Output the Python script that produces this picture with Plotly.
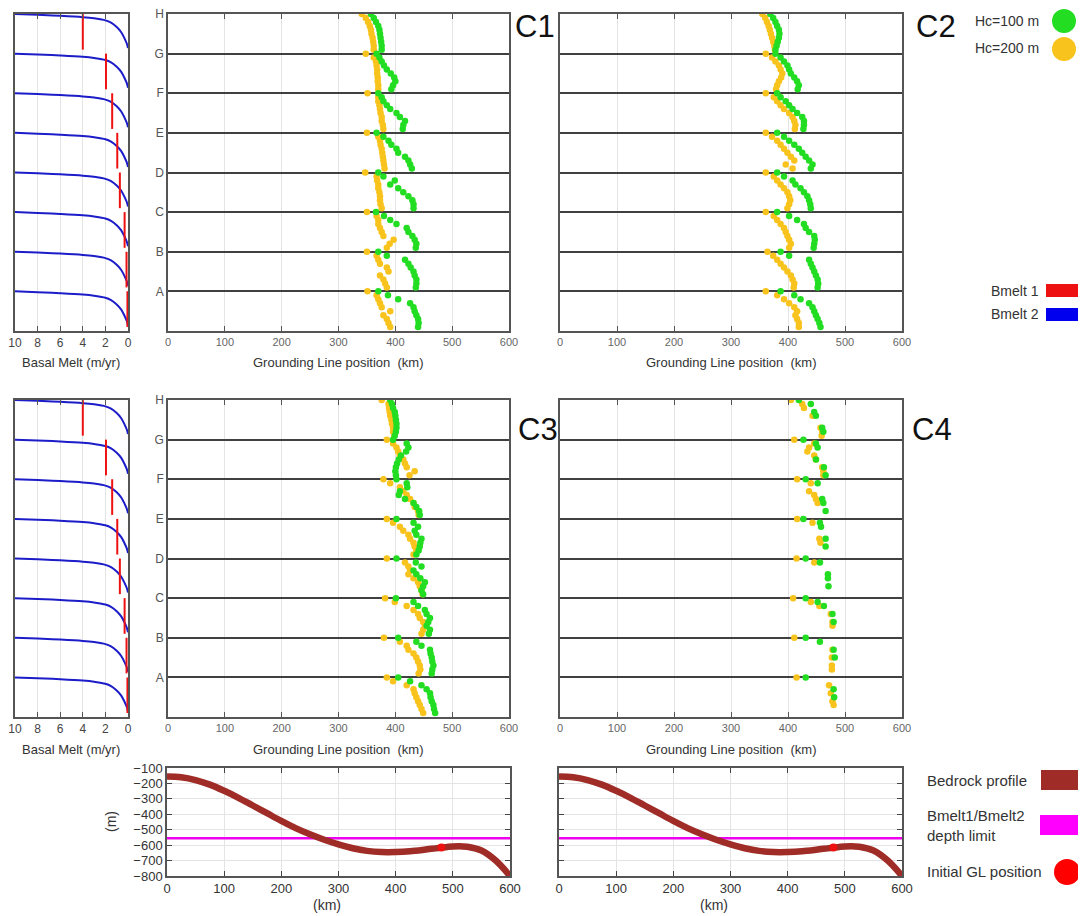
import plotly.graph_objects as go

# The page body adds an 8 px offset; the figure is sized so the plot lands on the 1086x916 canvas.
W, H = 1086, 916
OFF = 8
FW, FH = W - OFF, H - OFF
def px(x): return (x - OFF) / FW
def py(y): return 1 - (y - OFF) / FH

FONT = "Liberation Sans, Arial, sans-serif"

# ---------------- data ----------------
EXPERIMENTS = ["A", "B", "C", "D", "E", "F", "G", "H"]          # bottom -> top
ROWS = ["H", "G", "F", "E", "D", "C", "B", "A"]                 # row order of arrays below
TIME_FRAC = [0.0, 0.1, 0.2, 0.3, 0.4, 0.5, 0.6, 0.7, 0.8, 0.9]  # relative run index inside each experiment

# Grounding line positions (km), rows H..A
C1_HC100 = [
    [357, 362, 366, 370, 372, 373, 374, 375, 376, 376],
    [367, 372, 376, 380, 385, 392, 398, 400, 396, 393],
    [370, 376, 379, 385, 391, 402, 408, 417, 414, 413],
    [367, 379, 388, 393, 402, 405, 417, 423, 426, 429],
    [370, 379, 399, 391, 405, 414, 423, 430, 432, 432],
    [366, 380, 391, 402, 420, 423, 430, 434, 437, 436],
    [370, 385, 417, 423, 427, 432, 434, 437, 437, 436],
    [370, 387, 405, 426, 432, 434, 437, 440, 441, 440],
]
C1_HC200 = [
    [341, 348, 352, 355, 357, 358, 360, 361, 362, 362],
    [348, 362, 366, 367, 368, 368, 369, 369, 370, 370],
    [351, 370, 370, 372, 373, 374, 376, 376, 378, 379],
    [350, 370, 373, 374, 376, 377, 378, 379, 380, 381],
    [347, 367, 368, 370, 370, 372, 373, 373, 374, 376],
    [350, 367, 370, 370, 373, 376, 379, 397, 390, 385],
    [350, 367, 370, 373, 385, 388, 373, 379, 382, 385],
    [351, 367, 370, 373, 376, 391, 379, 385, 388, 391],
]
C2_HC100 = [
    [369, 374, 378, 381, 384, 385, 384, 382, 380, 378],
    [378, 387, 393, 399, 402, 405, 411, 416, 419, 417],
    [381, 387, 396, 402, 408, 416, 425, 428, 428, 427],
    [381, 393, 402, 411, 419, 425, 431, 437, 443, 440],
    [381, 393, 408, 413, 422, 428, 434, 437, 439, 440],
    [381, 402, 416, 428, 431, 437, 446, 447, 446, 445],
    [387, 402, 437, 440, 443, 446, 449, 452, 453, 452],
    [387, 411, 422, 437, 443, 446, 449, 452, 455, 457],
]
C2_HC200 = [
    [355, 360, 363, 366, 368, 370, 372, 374, 376, 377],
    [361, 372, 378, 384, 387, 390, 388, 384, 381, 379],
    [361, 375, 381, 387, 393, 402, 408, 411, 413, 412],
    [361, 372, 381, 387, 393, 399, 405, 411, 396, 408],
    [361, 375, 381, 387, 393, 399, 402, 404, 402, 399],
    [361, 375, 381, 387, 393, 396, 399, 402, 405, 402],
    [364, 374, 381, 387, 393, 399, 405, 408, 411, 410],
    [361, 381, 393, 402, 411, 416, 413, 416, 419, 419],
]
C3_HC100 = [
    [391, 394, 396, 399, 400, 401, 402, 402, 401, 399],
    [396, 420, 423, 419, 410, 406, 403, 401, 400, 401],
    [402, 420, 421, 408, 406, 417, 432, 437, 442, 443],
    [402, 432, 440, 434, 437, 446, 444, 443, 441, 437],
    [402, 436, 446, 432, 437, 444, 452, 449, 446, 449],
    [401, 432, 440, 452, 455, 461, 458, 455, 461, 459],
    [405, 437, 446, 461, 462, 464, 465, 467, 465, 464],
    [405, 426, 446, 455, 461, 462, 464, 467, 468, 470],
]
C3_HC200 = [
    [376, 388, 389, 390, 391, 393, 394, 396, 396, 398],
    [385, 396, 402, 405, 408, 414, 417, 420, 434, 425],
    [379, 391, 408, 414, 420, 426, 432, 434, 440, 441],
    [385, 396, 408, 414, 423, 426, 432, 434, 437, 432],
    [385, 417, 423, 426, 423, 432, 440, 443, 446, 448],
    [382, 399, 420, 432, 440, 443, 449, 452, 449, 446],
    [380, 408, 420, 423, 432, 437, 440, 443, 444, 441],
    [385, 396, 420, 432, 434, 437, 440, 443, 446, 449],
]
C4_HC100 = [
    [419, 440, None, 446, 449, None, None, 460, 462, None],
    [427, 449, 452, None, None, 449, None, 463, None, 466],
    [431, 452, None, None, None, 460, 462, None, 466, None],
    [427, 456, 458, None, None, 466, None, 466, None, None],
    [431, 456, None, None, 470, 470, None, 471, None, None],
    [431, 452, 463, None, 478, None, 480, None, None, None],
    [431, 456, None, 480, None, 482, None, None, None, None],
    [431, None, None, 480, None, 481, None, None, None, None],
]
C4_HC200 = [
    [405, 425, 428, None, 443, None, None, 457, 460, 459],
    [411, 446, 437, 434, 446, 449, None, 460, 462, 462],
    [416, 440, None, 437, 446, 449, 452, None, None, None],
    [416, 443, None, None, None, 455, 457, None, None, None],
    [415, 446, None, None, None, None, None, None, None, None],
    [409, 440, 455, None, 475, None, 478, 478, None, None],
    [411, None, None, 478, None, 477, None, 477, 477, None],
    [415, None, 472, None, 475, None, 478, 480, None, None],
]

# Basal melt profile (m/yr) vs relative depth inside each experiment band
MELT2_RATE = [10, 8, 6, 4, 3, 2, 1.5, 1.0, 0.6, 0.3, 0.1, 0]
MELT2_DEPTH = [0, 0.02, 0.045, 0.08, 0.11, 0.16, 0.22, 0.33, 0.46, 0.62, 0.75, 0.86]
# Bmelt 1 value (m/yr), rows H..A, and its relative depth span
BMELT1 = [4.0, 1.95, 1.4, 0.95, 0.72, 0.3, 0.13, 0.05]
BMELT1_SPAN = 0.9

# Bedrock profile
BED_X = [0, 25, 50, 75, 100, 125, 150, 175, 200, 225, 250, 275, 300, 325, 350, 375, 400,
         425, 450, 475, 500, 525, 550, 575, 600]
BED_Z = [-155, -160, -178, -208, -248, -293, -343, -393, -443, -490, -530, -565, -595,
         -620, -637, -645, -645, -640, -630, -618, -608, -610, -635, -700, -800]
DEPTH_LIMIT = -555
INITIAL_GL_X = [480]
INITIAL_GL_Z = [-615]

GREEN = "#22dd22"
YELLOW = "#f8c31c"
RED = "#ee1111"
BLUE = "#1c1cc8"
BROWN = "#a02c27"
MAGENTA = "#ee00ee"

fig = go.Figure()

def band_pos(label):
    return EXPERIMENTS.index(label) + 1

def scatter_xy(rows):
    xs, ys = [], []
    for label, vals in zip(ROWS, rows):
        for t, v in zip(TIME_FRAC, vals):
            if v is None:
                continue
            xs.append(v)
            ys.append(band_pos(label) - t)
    return xs, ys

def add_gl(rows200, rows100, ax):
    for rows, col, name in ((rows200, YELLOW, "Hc=200 m"), (rows100, GREEN, "Hc=100 m")):
        x, y = scatter_xy(rows)
        fig.add_trace(go.Scatter(x=x, y=y, mode="markers", name=name, showlegend=False,
                                 marker=dict(color=col, size=6.5, line=dict(width=0)),
                                 xaxis="x" + ax, yaxis="y" + ax))

def add_melt(ax):
    bx, by, rx, ry = [], [], [], []
    for label, r in zip(ROWS, BMELT1):
        p = band_pos(label)
        bx += MELT2_RATE + [None]
        by += [p - d for d in MELT2_DEPTH] + [None]
        rx += [r, r, None]
        ry += [p, p - BMELT1_SPAN, None]
    fig.add_trace(go.Scatter(x=bx, y=by, mode="lines", line=dict(color=BLUE, width=2, shape="spline"),
                             name="Bmelt 2", showlegend=False, xaxis="x" + ax, yaxis="y" + ax))
    fig.add_trace(go.Scatter(x=rx, y=ry, mode="lines", line=dict(color=RED, width=2),
                             name="Bmelt 1", showlegend=False, xaxis="x" + ax, yaxis="y" + ax))

def add_bed(ax):
    fig.add_trace(go.Scatter(x=[0, 600], y=[DEPTH_LIMIT, DEPTH_LIMIT], mode="lines",
                             line=dict(color=MAGENTA, width=2.5), showlegend=False,
                             xaxis="x" + ax, yaxis="y" + ax))
    fig.add_trace(go.Scatter(x=BED_X, y=BED_Z, mode="lines", line=dict(color=BROWN, width=6.5, shape="spline"),
                             showlegend=False, xaxis="x" + ax, yaxis="y" + ax))
    fig.add_trace(go.Scatter(x=INITIAL_GL_X, y=INITIAL_GL_Z, mode="markers",
                             marker=dict(color=RED, size=8), showlegend=False,
                             xaxis="x" + ax, yaxis="y" + ax))

add_melt("")
add_gl(C1_HC200, C1_HC100, "2")
add_gl(C2_HC200, C2_HC100, "3")
add_melt("4")
add_gl(C3_HC200, C3_HC100, "5")
add_gl(C4_HC200, C4_HC100, "6")
add_bed("7")
add_bed("8")

frame = dict(showline=True, linecolor="#555", linewidth=1.5, zeroline=False, automargin=False,
             ticklabeloverflow="allow")
tickf = dict(family=FONT, size=11, color="#666")

def gl_x(dom, anchor):
    return dict(domain=dom, anchor=anchor, range=[0, 600], tickvals=[0, 100, 200, 300, 400, 500, 600],
                showgrid=True, gridcolor="#e4e4e4", gridwidth=1, ticks="inside", ticklen=5,
                tickcolor="#555", mirror="ticks", tickfont=tickf, **frame)

def gl_y(dom, anchor, labels):
    return dict(domain=dom, anchor=anchor, range=[0, 8], tickvals=list(range(1, 9)), ticktext=EXPERIMENTS,
                showticklabels=labels, showgrid=True, gridcolor="#404040", gridwidth=1.5, ticks="",
                mirror=True, tickfont=dict(family=FONT, size=12, color="#555"), **frame)

def melt_x(dom, anchor):
    return dict(domain=dom, anchor=anchor, range=[10, 0], tickvals=[10, 8, 6, 4, 2, 0],
                showgrid=True, gridcolor="#e4e4e4", ticks="inside", ticklen=5, tickcolor="#555",
                mirror="ticks", tickfont=dict(family=FONT, size=12, color="#444"), **frame)

def melt_y(dom, anchor):
    return dict(domain=dom, anchor=anchor, range=[0, 8], showticklabels=False, showgrid=False,
                ticks="", mirror=True, **frame)

def bed_x(dom, anchor):
    return dict(domain=dom, anchor=anchor, range=[0, 600], tickvals=[0, 100, 200, 300, 400, 500, 600],
                showgrid=True, gridcolor="#e4e4e4", ticks="inside", ticklen=5, tickcolor="#444",
                mirror="ticks", tickfont=dict(family=FONT, size=13, color="#333"), **frame)

def bed_y(dom, anchor, labels):
    return dict(domain=dom, anchor=anchor, range=[-800, -100], dtick=100, showticklabels=labels,
                showgrid=True, gridcolor="#e4e4e4", ticks="inside", ticklen=5, tickcolor="#444",
                mirror="ticks", tickfont=dict(family=FONT, size=13, color="#333"), **frame)

TOP = [py(331), py(14)]
BOT = [py(717), py(400)]
XM = [px(15), px(128)]
XL = [px(168), px(509)]
XR = [px(560), px(902)]
BEDY = [py(876), py(768)]

fig.update_layout(
    xaxis=melt_x(XM, "y"), yaxis=melt_y(TOP, "x"),
    xaxis2=gl_x(XL, "y2"), yaxis2=gl_y(TOP, "x2", True),
    xaxis3=gl_x(XR, "y3"), yaxis3=gl_y(TOP, "x3", False),
    xaxis4=melt_x(XM, "y4"), yaxis4=melt_y(BOT, "x4"),
    xaxis5=gl_x(XL, "y5"), yaxis5=gl_y(BOT, "x5", True),
    xaxis6=gl_x(XR, "y6"), yaxis6=gl_y(BOT, "x6", False),
    xaxis7=bed_x([px(167), px(510)], "y7"), yaxis7=bed_y(BEDY, "x7", True),
    xaxis8=bed_x([px(559), px(902)], "y8"), yaxis8=bed_y(BEDY, "x8", False),
)

ann = []
def text(x, y, s, size=11, xanchor="center", color="#333", **kw):
    ann.append(dict(x=px(x), y=py(y), xref="paper", yref="paper", text=s, showarrow=False,
                    xanchor=xanchor, yanchor="middle", font=dict(family=FONT, size=size, color=color), **kw))

for y in (362, 749):
    text(71, y, "Basal Melt (m/yr)", size=13)
    text(338, y, "Grounding Line position&nbsp;&nbsp;(km)", size=13)
    text(731, y, "Grounding Line position&nbsp;&nbsp;(km)", size=13)
text(327, 905, "(km)", size=14)
text(714, 905, "(km)", size=14)
text(111, 822, "(m)", size=14, textangle=-90)
text(535, 27, "C1", size=31, color="#111")
text(936, 27, "C2", size=31, color="#111")
text(538, 430, "C3", size=31, color="#111")
text(932, 429, "C4", size=31, color="#111")
text(1041, 21, "Hc=100 m", size=14, xanchor="right")
text(1041, 48, "Hc=200 m", size=14, xanchor="right")
text(1041, 291, "Bmelt 1", size=14, xanchor="right")
text(1041, 314, "Bmelt 2", size=14, xanchor="right")
text(925, 780, "Bedrock profile", size=15, xanchor="left")
text(925, 825, "Bmelt1/Bmelt2<br>depth limit", size=15, xanchor="left", align="left")
text(925, 871, "Initial GL position", size=15, xanchor="left")

shapes = [
    dict(type="circle", xref="paper", yref="paper", x0=px(1052), x1=px(1076), y0=py(33), y1=py(9),
         fillcolor=GREEN, line=dict(width=0)),
    dict(type="circle", xref="paper", yref="paper", x0=px(1052), x1=px(1076), y0=py(61), y1=py(37),
         fillcolor=YELLOW, line=dict(width=0)),
    dict(type="rect", xref="paper", yref="paper", x0=px(1046), x1=px(1083), y0=py(297), y1=py(284),
         fillcolor=RED, line=dict(width=0)),
    dict(type="rect", xref="paper", yref="paper", x0=px(1046), x1=px(1083), y0=py(321), y1=py(308),
         fillcolor="#0000ee", line=dict(width=0)),
    dict(type="rect", xref="paper", yref="paper", x0=px(1041), x1=px(1086), y0=py(790), y1=py(770),
         fillcolor=BROWN, line=dict(width=0)),
    dict(type="rect", xref="paper", yref="paper", x0=px(1040), x1=px(1086), y0=py(835), y1=py(815),
         fillcolor="#ff00ff", line=dict(width=0)),
    dict(type="circle", xref="paper", yref="paper", x0=px(1054), x1=px(1080), y0=py(885), y1=py(859),
         fillcolor="#ff0000", line=dict(width=0)),
]

fig.update_layout(width=FW, height=FH, margin=dict(l=0, r=0, t=0, b=0),
                  paper_bgcolor="white", plot_bgcolor="white", showlegend=False,
                  annotations=ann, shapes=shapes, font=dict(family=FONT))

fig.write_html("out.html")
